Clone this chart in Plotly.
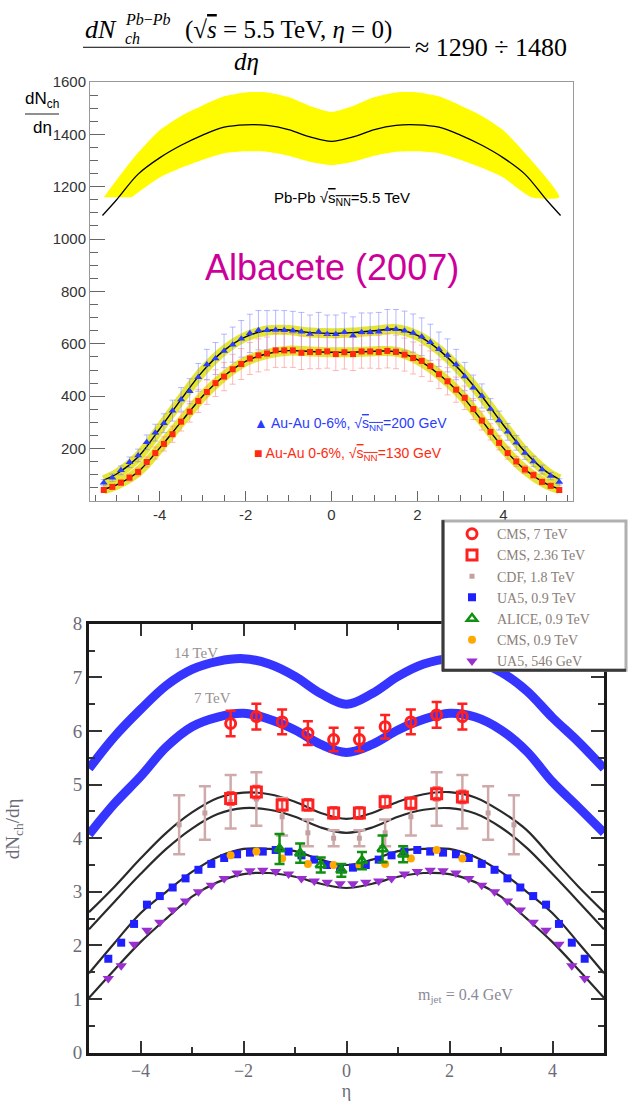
import plotly.graph_objects as go

W, H = 630, 1107
def PX(x): return x / W
def PY(y): return 1 - y / H

# ---------------- top panel data (Albacete 2007) ----------------
pbpb_eta = [-5.33,-5.0,-4.5,-4.0,-3.5,-3.0,-2.5,-2.0,-1.5,-1.0,-0.5,0.0,0.5,1.0,1.5,2.0,2.5,3.0,3.5,4.0,4.5,5.0,5.33]
pbpb_val = [1090,1150,1248,1310,1358,1397,1427,1436,1434,1418,1390,1373,1390,1418,1434,1436,1427,1397,1358,1310,1248,1150,1090]
band_up_eta = [-5.3,-4.6,-4.0,-3.5,-3.0,-2.5,-2.0,-1.5,-1.0,-0.5,0.0,0.5,1.0,1.5,2.0,2.5,3.0,3.5,4.0,4.6,5.3]
band_up = [1160,1310,1415,1470,1510,1545,1560,1560,1542,1508,1485,1508,1542,1560,1560,1545,1510,1470,1415,1310,1160]
band_lo_eta = [-4.65,-4.0,-3.5,-3.0,-2.5,-2.0,-1.5,-1.0,-0.5,0.0,0.5,1.0,1.5,2.0,2.5,3.0,3.5,4.0,4.65]
band_lo = [1160,1235,1272,1303,1328,1335,1333,1318,1295,1282,1295,1318,1333,1335,1328,1303,1272,1235,1160]

auau_eta = [-5.3,-5.1,-4.9,-4.7,-4.5,-4.3,-4.1,-3.9,-3.7,-3.5,-3.3,-3.1,-2.9,-2.7,-2.5,-2.3,-2.1,-1.9,-1.7,-1.5,-1.3,-1.1,-0.9,-0.7,-0.5,-0.3,-0.1,
            0.1,0.3,0.5,0.7,0.9,1.1,1.3,1.5,1.7,1.9,2.1,2.3,2.5,2.7,2.9,3.1,3.3,3.5,3.7,3.9,4.1,4.3,4.5,4.7,4.9,5.1,5.3]
au200 = [70,89,117,148,174,224,261,297,345,388,419,472,521,544,573,597,619,640,652,652,653,652,650,646,637,646,637,
         637,644,631,644,644,646,656,656,650,641,627,606,579,556,521,475,432,401,351,307,264,222,183,151,120,95,73]
au200_err = [12,14,17,20,24,28,32,36,40,45,48,53,58,61,64,67,70,73,75,75,75,75,74,74,73,74,73,
             73,74,72,74,74,74,75,75,75,73,72,69,66,63,58,54,49,46,40,36,32,28,24,20,17,14,12]
au130 = [42,54,70,89,111,149,183,218,255,303,341,382,416,450,475,503,523,544,556,563,575,575,575,566,569,569,571,
         561,568,561,571,571,569,573,569,559,546,535,515,484,457,425,394,351,307,264,222,183,151,120,99,73,58,42]
au130_err = [8,9,11,13,15,19,23,27,31,36,40,44,47,51,54,57,59,61,63,63,65,65,65,64,64,64,64,
             63,64,63,64,64,64,65,64,63,61,60,58,55,52,48,45,40,36,31,27,23,19,15,13,11,9,8]

fit_eta = [-5.3,-5.0,-4.5,-4.0,-3.5,-3.0,-2.5,-2.0,-1.5,-1.0,-0.5,0.0,0.5,1.0,1.5,2.0,2.5,3.0,3.5,4.0,4.5,5.0,5.3]
fit200 = [80,103,168,275,388,495,575,627,651,653,643,640,643,650,656,632,577,498,400,290,188,112,83]
fit130 = [45,62,112,202,302,400,477,533,562,574,571,568,568,572,570,540,484,408,307,202,120,65,46]

top_yticks = [200,400,600,800,1000,1200,1400,1600]
top_xticks = [-4,-2,0,2,4]

# ---------------- bottom panel data (pp / ppbar) ----------------
curve_eta = [-5.0,-4.5,-4.0,-3.5,-3.0,-2.5,-2.0,-1.5,-1.0,-0.5,0.0,0.5,1.0,1.5,2.0,2.5,3.0,3.5,4.0,4.5,5.0]
band14 = [5.30,5.90,6.40,6.85,7.15,7.30,7.35,7.25,7.02,6.70,6.50,6.70,7.02,7.25,7.35,7.30,7.10,6.75,6.25,5.80,5.30]
band7  = [4.07,4.65,5.15,5.70,6.08,6.26,6.33,6.22,6.02,5.75,5.60,5.75,6.02,6.22,6.33,6.26,6.02,5.62,5.05,4.58,4.10]
line236a = [2.62,3.10,3.62,4.10,4.48,4.75,4.85,4.82,4.68,4.47,4.36,4.47,4.68,4.82,4.86,4.76,4.50,4.15,3.62,3.10,2.62]
line236b = [2.30,2.82,3.33,3.80,4.18,4.45,4.56,4.53,4.40,4.20,4.10,4.20,4.40,4.53,4.56,4.46,4.20,3.82,3.33,2.82,2.30]
line09   = [1.48,2.05,2.60,3.00,3.37,3.65,3.80,3.80,3.76,3.60,3.50,3.60,3.76,3.80,3.80,3.65,3.37,3.00,2.60,2.05,1.48]
line546  = [1.02,1.55,2.06,2.50,2.91,3.18,3.33,3.35,3.28,3.15,3.07,3.15,3.28,3.35,3.33,3.18,2.91,2.50,2.06,1.55,1.02]

cms_eta = [-2.25,-1.75,-1.25,-0.75,-0.25,0.25,0.75,1.25,1.75,2.25]
cms7 = [6.14,6.27,6.17,5.96,5.84,5.84,6.08,6.17,6.30,6.27]
cms7_err = [0.24,0.24,0.23,0.22,0.22,0.22,0.22,0.23,0.24,0.24]
cms236 = [4.74,4.86,4.62,4.62,4.47,4.47,4.68,4.65,4.83,4.77]
cms236_err = [0.12,0.12,0.11,0.11,0.11,0.11,0.11,0.11,0.12,0.12]
cms09 = [3.68,3.75,3.62,3.52,3.50,3.50,3.52,3.62,3.78,3.62]

cdf_eta = [-3.25,-2.75,-2.25,-1.75,-1.25,-0.75,-0.25,0.25,0.75,1.25,1.75,2.25,2.75,3.25]
cdf = [4.25,4.47,4.68,4.73,4.40,4.10,4.00,4.00,4.10,4.40,4.73,4.68,4.47,4.25]
cdf_err = [0.55,0.50,0.50,0.50,0.35,0.25,0.15,0.15,0.25,0.35,0.50,0.50,0.50,0.55]

alice_eta = [-1.3,-0.9,-0.5,-0.1,0.3,0.7,1.1]
alice = [3.80,3.72,3.50,3.40,3.58,3.80,3.70]
alice_err = [0.28,0.18,0.14,0.12,0.16,0.25,0.15]

ua5_eta = [-4.625,-4.375,-4.125,-3.875,-3.625,-3.375,-3.125,-2.875,-2.625,-2.375,-2.125,-1.875,-1.625,-1.375,-1.125,-0.875,-0.625,-0.375,-0.125,
           0.125,0.375,0.625,0.875,1.125,1.375,1.625,1.875,2.125,2.375,2.625,2.875,3.125,3.375,3.625,3.875,4.125,4.375,4.625]
ua5_09 = [1.75,2.05,2.40,2.76,2.92,3.08,3.25,3.41,3.52,3.63,3.70,3.73,3.75,3.78,3.75,3.68,3.60,3.50,3.45,
          3.45,3.50,3.60,3.68,3.75,3.78,3.75,3.73,3.70,3.63,3.52,3.41,3.25,3.08,2.92,2.76,2.40,2.05,1.75]
ua5_546 = [1.38,1.62,2.02,2.28,2.43,2.66,2.83,3.00,3.12,3.25,3.35,3.39,3.40,3.38,3.33,3.25,3.20,3.18,3.15,
           3.15,3.18,3.20,3.25,3.33,3.38,3.40,3.39,3.35,3.25,3.12,3.00,2.83,2.66,2.43,2.28,2.02,1.62,1.38]

bot_yticks = [0,1,2,3,4,5,6,7,8]
bot_xticks = [-4,-2,0,2,4]

fig = go.Figure()
T = dict(xaxis='x', yaxis='y', showlegend=False, hoverinfo='skip')
B = dict(xaxis='x2', yaxis='y2', hoverinfo='skip')

# ---- top panel traces ----
band_x = band_up_eta + band_lo_eta[::-1]
band_y = band_up + band_lo[::-1]
fig.add_trace(go.Scatter(x=band_x, y=band_y, mode='lines', fill='toself', fillcolor='#fffb00',
                         line=dict(width=0, color='#fffb00', shape='spline', smoothing=0.6), **T))
fig.add_trace(go.Scatter(x=pbpb_eta, y=pbpb_val, mode='lines', line=dict(color='black', width=1.3, shape='spline'), **T))

for fit in (fit200, fit130):
    fig.add_trace(go.Scatter(x=fit_eta, y=fit, mode='lines', line=dict(color='rgba(225,225,20,0.85)', width=10, shape='spline'), **T))
    fig.add_trace(go.Scatter(x=fit_eta, y=fit, mode='lines', line=dict(color='black', width=1.4, shape='spline'), **T))

fig.add_trace(go.Scatter(x=auau_eta, y=au200, mode='markers',
                         marker=dict(symbol='triangle-up', size=7, color='#2a3cff'),
                         error_y=dict(array=au200_err, color='rgba(120,130,255,0.55)', thickness=1, width=3), **T))
fig.add_trace(go.Scatter(x=auau_eta, y=au130, mode='markers',
                         marker=dict(symbol='square', size=6, color='#ff2a10'),
                         error_y=dict(array=au130_err, color='rgba(255,130,130,0.55)', thickness=1, width=3), **T))

# ---- bottom panel traces ----
for band in (band14, band7):
    fig.add_trace(go.Scatter(x=curve_eta, y=band, mode='lines', showlegend=False,
                             line=dict(color='#3535ff', width=9, shape='spline'), **B))
for ln in (line236a, line236b, line09, line546):
    fig.add_trace(go.Scatter(x=curve_eta, y=ln, mode='lines', showlegend=False,
                             line=dict(color='#2a2a2a', width=2.2, shape='spline'), **B))

fig.add_trace(go.Scatter(x=cdf_eta, y=cdf, mode='markers', name='CDF, 1.8 TeV', legendgroup='g3',
                         marker=dict(symbol='square', size=5, color='#c4a0a0'),
                         error_y=dict(array=cdf_err, color='#cfaaaa', thickness=2.5, width=6), **B))
fig.add_trace(go.Scatter(x=ua5_eta, y=ua5_546, mode='markers', name='UA5, 546 GeV', legendgroup='g7',
                         marker=dict(symbol='triangle-down', size=10, color='#9a2fd0'), **B))
fig.add_trace(go.Scatter(x=ua5_eta, y=ua5_09, mode='markers', name='UA5, 0.9 TeV', legendgroup='g4',
                         marker=dict(symbol='square', size=8, color='#2020ff'), **B))
fig.add_trace(go.Scatter(x=cms_eta, y=cms09, mode='markers', name='CMS, 0.9 TeV', legendgroup='g6',
                         marker=dict(symbol='circle', size=8, color='#ffa800'), **B))
fig.add_trace(go.Scatter(x=alice_eta, y=alice, mode='markers', name='ALICE, 0.9 TeV', legendgroup='g5',
                         marker=dict(symbol='triangle-up-open', size=9, color='#109010', line=dict(width=2.5)),
                         error_y=dict(array=alice_err, color='#109010', thickness=2.5, width=5), **B))
fig.add_trace(go.Scatter(x=cms_eta, y=cms236, mode='markers', name='CMS, 2.36 TeV', legendgroup='g2',
                         marker=dict(symbol='square-open', size=10, color='#ff2020', line=dict(width=3)),
                         error_y=dict(array=cms236_err, color='#ff5050', thickness=2, width=4), **B))
fig.add_trace(go.Scatter(x=cms_eta, y=cms7, mode='markers', name='CMS, 7 TeV', legendgroup='g1',
                         marker=dict(symbol='circle-open', size=10, color='#ff2020', line=dict(width=3)),
                         error_y=dict(array=cms7_err, color='#ff2020', thickness=2.5, width=5),
                         error_x=dict(value=0.18, color='#ff2020', thickness=2.5, width=0), **B))

ranks = {'CMS, 7 TeV': 1, 'CMS, 2.36 TeV': 2, 'CDF, 1.8 TeV': 3, 'UA5, 0.9 TeV': 4,
         'ALICE, 0.9 TeV': 5, 'CMS, 0.9 TeV': 6, 'UA5, 546 GeV': 7}
for tr in fig.data:
    if tr.name in ranks:
        tr.legendrank = ranks[tr.name]
        tr.showlegend = True

sans = 'Liberation Sans, Arial, sans-serif'
serif = 'Liberation Serif, Times New Roman, serif'

fig.update_layout(
    width=W, height=H, margin=dict(l=0, r=0, t=0, b=0),
    paper_bgcolor='white', plot_bgcolor='white',
    showlegend=True,
    legend=dict(x=PX(447), y=PY(518), xanchor='left', yanchor='top', bgcolor='rgba(0,0,0,0)',
                borderwidth=0, font=dict(family=serif, size=14, color='#8a8078'),
                itemwidth=40, tracegroupgap=2.6, traceorder='normal'),
    xaxis=dict(domain=[PX(90), PX(573)], range=[-5.62, 5.62], anchor='y',
               tickvals=top_xticks, ticktext=[str(v) for v in top_xticks],
               ticks='inside', ticklen=10, tickcolor='#666', tickwidth=1,
               minor=dict(dtick=0.5, tick0=0, ticks='inside', ticklen=6, tickcolor='#666'),
               showline=True, linecolor='#999', linewidth=1, mirror=True, showgrid=False, zeroline=False,
               tickfont=dict(family=sans, size=15, color='#333')),
    yaxis=dict(domain=[PY(500.5), PY(73.3)], range=[0, 1600], anchor='x',
               tickvals=top_yticks, ticks='inside', ticklen=15, tickcolor='#666', tickwidth=1,
               minor=dict(dtick=50, tick0=0, ticks='inside', ticklen=8, tickcolor='#666'),
               showline=True, linecolor='#999', linewidth=1, mirror=True, showgrid=False, zeroline=False,
               tickfont=dict(family=sans, size=15, color='#333')),
    xaxis2=dict(domain=[PX(89), PX(604)], range=[-5, 5], anchor='y2',
                tickvals=bot_xticks, ticks='inside', ticklen=12, tickcolor='#333', tickwidth=2,
                minor=dict(dtick=1, tick0=0, ticks='inside', ticklen=6, tickcolor='#333', tickwidth=2),
                showline=True, linecolor='#1a1a1a', linewidth=3, mirror='allticks', showgrid=False, zeroline=False,
                tickfont=dict(family=serif, size=18, color='#6b6b78'),
                title=dict(text='η', standoff=0, font=dict(family=serif, size=18, color='#6b6b78'))),
    yaxis2=dict(domain=[PY(1062.7), PY(625.7)], range=[0, 8], anchor='x2',
                tickvals=bot_yticks, ticks='inside', ticklen=13, tickcolor='#333', tickwidth=2,
                minor=dict(dtick=0.5, tick0=0, ticks='inside', ticklen=6, tickcolor='#333', tickwidth=2),
                showline=True, linecolor='#1a1a1a', linewidth=3, mirror='allticks', showgrid=False, zeroline=False,
                tickfont=dict(family=serif, size=19, color='#6b6b78')),
)

ann = []
def A(x, y, text, size, color='black', family=sans, xanchor='center', angle=0, **kw):
    ann.append(dict(x=PX(x), y=PY(y), xref='paper', yref='paper', text=text, showarrow=False,
                    xanchor=xanchor, yanchor='middle', textangle=angle,
                    font=dict(family=family, size=size, color=color), **kw))

# header formula
A(83, 20, '<i>dN</i>', 26, family=serif, xanchor='left')
A(123, 10, '<i>Pb</i>−<i>Pb</i>', 16, family=serif, xanchor='left')
A(123, 29, '<i>ch</i>', 16, family=serif, xanchor='left')
A(183, 20, '(√<span style="text-decoration:overline"><i>s</i></span> = 5.5 TeV, <i>η</i> = 0)', 25, family=serif, xanchor='left')
A(246, 52, '<i>dη</i>', 25, family=serif)
A(413, 38, '≈ 1290 ÷ 1480', 26, family=serif, xanchor='left')

# top y title (fraction)
A(42, 92, 'dN<sub>ch</sub>', 17)
A(42, 120, 'dη', 17)
# top labels
A(272, 192, 'Pb-Pb √<span style="text-decoration:overline">s<sub>NN</sub></span>=5.5 TeV', 15, xanchor='left')
A(332, 262, 'Albacete (2007)', 36, color='#cc0099')
A(252, 422, '▲ Au-Au 0-6%, √<span style="text-decoration:overline">s<sub>NN</sub></span>=200 GeV', 14, color='#2a3cff', xanchor='left')
A(252, 453, '■ Au-Au 0-6%, √<span style="text-decoration:overline">s<sub>NN</sub></span>=130 GeV', 14, color='#ff2a10', xanchor='left')

# bottom labels
A(196, 655, '14 TeV', 15, color='#9a9090', family=serif)
A(212, 701, '7 TeV', 15, color='#9a9090', family=serif)
A(465, 1005, 'm<sub>jet</sub> = 0.4 GeV', 16, color='#8a8a98', family=serif)
A(14, 835, 'dN<sub>ch</sub>/dη', 19, color='#6b6b78', family=serif, angle=-90)

shapes = [
    dict(type='line', xref='paper', yref='paper', x0=PX(83), x1=PX(410), y0=PY(38), y1=PY(38),
         line=dict(color='black', width=1)),
    dict(type='line', xref='paper', yref='paper', x0=PX(25), x1=PX(59), y0=PY(106), y1=PY(106),
         line=dict(color='#222', width=1.2)),
    # legend box
    dict(type='rect', xref='paper', yref='paper', x0=PX(443), x1=PX(626), y0=PY(673), y1=PY(521),
         line=dict(color='#b0b0b0', width=3), fillcolor='white', layer='above'),
    dict(type='line', xref='paper', yref='paper', x0=PX(443), x1=PX(443), y0=PY(674), y1=PY(520),
         line=dict(color='#3a3a3a', width=3), layer='above'),
    dict(type='line', xref='paper', yref='paper', x0=PX(442), x1=PX(626), y0=PY(673), y1=PY(673),
         line=dict(color='#3a3a3a', width=3), layer='above'),
]
fig.update_layout(annotations=ann, shapes=shapes)
fig.write_html('out.html')
